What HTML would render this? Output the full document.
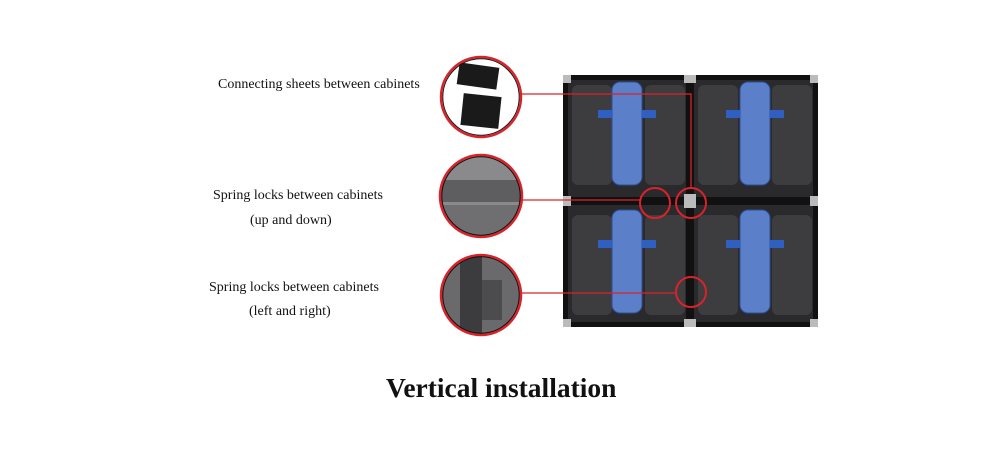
<!DOCTYPE html>
<html><head><style>
body{margin:0;width:1000px;height:458px;background:#fff;overflow:hidden;position:relative;font-family:"Liberation Serif",serif;}
.t{position:absolute;font-size:14px;color:#111;white-space:nowrap;}
</style></head><body>
<div class="t" style="left:218px;top:77px">Connecting sheets between cabinets</div>
<div class="t" style="left:213px;top:188px">Spring locks between cabinets</div>
<div class="t" style="left:250px;top:213px">(up and down)</div>
<div class="t" style="left:209px;top:280px">Spring locks between cabinets</div>
<div class="t" style="left:249px;top:304px">(left and right)</div>
<div style="position:absolute;left:386px;top:372px;font-size:27.5px;font-weight:bold;color:#111;white-space:nowrap">Vertical installation</div>
<svg width="1000" height="458" style="position:absolute;left:0;top:0">
<defs>
<clipPath id="c1"><circle cx="481" cy="97" r="40"/></clipPath>
<clipPath id="c2"><circle cx="481" cy="196" r="41"/></clipPath>
<clipPath id="c3"><circle cx="481" cy="295" r="40"/></clipPath>
</defs>
<rect x="563" y="75" width="255" height="252" fill="#2a2a2c"/>
<g fill="#3d3d40">
<rect x="572" y="85" width="40" height="100" rx="6"/><rect x="645" y="85" width="40" height="100" rx="6"/>
<rect x="698" y="85" width="40" height="100" rx="6"/><rect x="772" y="85" width="40" height="100" rx="6"/>
<rect x="572" y="215" width="40" height="100" rx="6"/><rect x="645" y="215" width="40" height="100" rx="6"/>
<rect x="698" y="215" width="40" height="100" rx="6"/><rect x="772" y="215" width="40" height="100" rx="6"/>
</g>
<rect x="563" y="197" width="255" height="8" fill="#111"/>
<rect x="686" y="75" width="8" height="252" fill="#111"/>
<g fill="#111"><rect x="563" y="75" width="255" height="5"/><rect x="563" y="322" width="255" height="5"/><rect x="563" y="75" width="5" height="252"/><rect x="813" y="75" width="5" height="252"/></g>
<g fill="#5b7fc9" stroke="#2e4f9a" stroke-width="1">
<rect x="612" y="82" width="30" height="103" rx="8"/><rect x="740" y="82" width="30" height="103" rx="8"/>
<rect x="612" y="210" width="30" height="103" rx="8"/><rect x="740" y="210" width="30" height="103" rx="8"/>
</g>
<g fill="#2f5fc0"><rect x="598" y="110" width="14" height="8"/><rect x="642" y="110" width="14" height="8"/><rect x="726" y="110" width="14" height="8"/><rect x="770" y="110" width="14" height="8"/>
<rect x="598" y="240" width="14" height="8"/><rect x="642" y="240" width="14" height="8"/><rect x="726" y="240" width="14" height="8"/><rect x="770" y="240" width="14" height="8"/></g>
<g fill="#bbb"><rect x="563" y="75" width="8" height="8"/><rect x="810" y="75" width="8" height="8"/><rect x="684" y="75" width="12" height="8"/><rect x="563" y="196" width="8" height="10"/><rect x="810" y="196" width="8" height="10"/><rect x="684" y="194" width="12" height="14"/><rect x="563" y="319" width="8" height="8"/><rect x="810" y="319" width="8" height="8"/><rect x="684" y="319" width="12" height="8"/></g>
<g clip-path="url(#c1)"><rect x="440" y="56" width="82" height="82" fill="#fff"/><rect x="458" y="65" width="40" height="22" fill="#1a1a1a" transform="rotate(8 478 76)"/><rect x="462" y="95" width="38" height="32" fill="#1a1a1a" transform="rotate(6 481 111)"/></g>
<g clip-path="url(#c2)"><rect x="438" y="154" width="86" height="86" fill="#8a8a8c"/><rect x="438" y="180" width="86" height="22" fill="#5e5e60"/><rect x="438" y="205" width="86" height="35" fill="#6f6f72"/></g>
<g clip-path="url(#c3)"><rect x="440" y="254" width="82" height="82" fill="#6a6a6c"/><rect x="460" y="254" width="22" height="82" fill="#3c3c3e"/><rect x="482" y="280" width="20" height="40" fill="#4c4c4e"/></g>
<g fill="none" stroke="#d9232a" stroke-width="2.5">
<circle cx="481" cy="97" r="40"/><circle cx="481" cy="196" r="41"/><circle cx="481" cy="295" r="40"/>
</g>
<g fill="none" stroke="#111" stroke-width="1">
<circle cx="481" cy="97" r="38.2"/><circle cx="481" cy="196" r="39.2"/><circle cx="481" cy="295" r="38.2"/>
</g>
<g fill="none" stroke="#d9232a" stroke-width="2">
<circle cx="655" cy="203" r="15"/><circle cx="691" cy="203" r="15"/><circle cx="691" cy="292" r="15"/>
</g>
<g stroke="#d9232a" stroke-width="1.3" fill="none">
<polyline points="522,94 691,94 691,188"/>
<line x1="523" y1="200" x2="641" y2="200"/>
<line x1="522" y1="293" x2="677" y2="293"/>
</g>
</svg>
</body></html>
